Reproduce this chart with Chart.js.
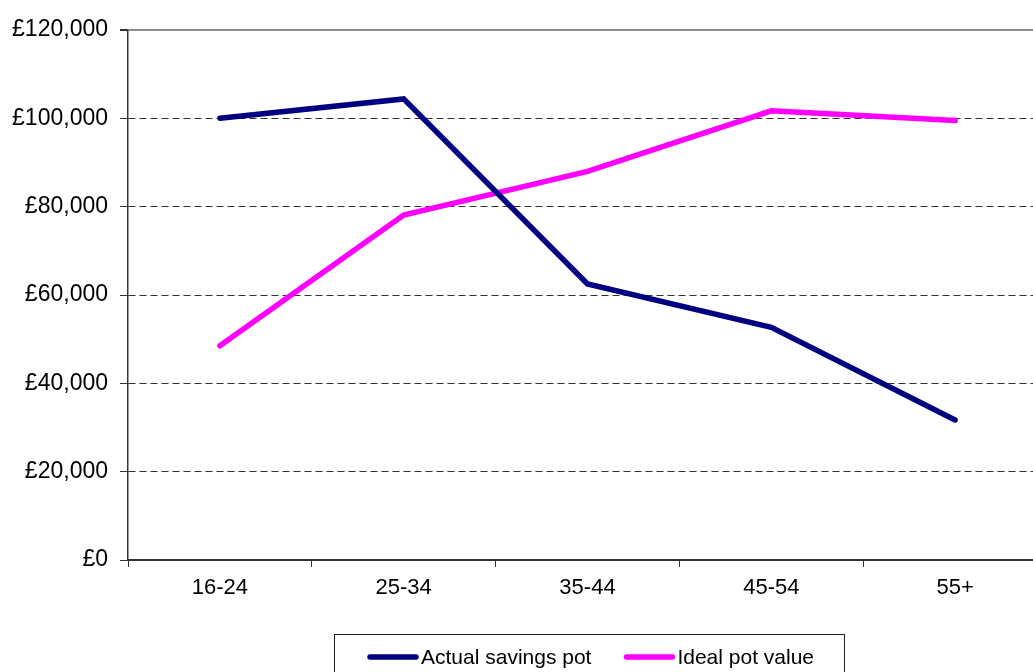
<!DOCTYPE html>
<html>
<head>
<meta charset="utf-8">
<script src="https://cdn.jsdelivr.net/npm/chart.js@4.4.1/dist/chart.umd.min.js"></script>
<style>
  html, body { margin: 0; padding: 0; overflow: hidden; background: #ffffff; }
  #wrap { width: 1050px; height: 672px; }
</style>
</head>
<body>
<div id="wrap"><canvas id="c" width="1050" height="672"></canvas></div>
<script>
// Age bands along the x axis
const ageBands = ['16-24', '25-34', '35-44', '45-54', '55+'];
// Pension pot values (£) per age band
const actualSavingsPot = [100000, 104400, 62500, 52700, 31700];
const idealPotValue = [48500, 78100, 88000, 101700, 99500];
// Value axis ticks (£)
const yTickValues = [0, 20000, 40000, 60000, 80000, 100000, 120000];

const FONT = '"Liberation Sans", Arial, Helvetica, sans-serif';
const gbp = v => '£' + Number(v).toLocaleString('en-GB');

// Boxed legend drawn below the axis
const boxedLegend = {
  id: 'boxedLegend',
  afterDraw(chart) {
    const ctx = chart.ctx;
    ctx.save();
    ctx.strokeStyle = '#222';
    ctx.lineWidth = 1;
    ctx.strokeRect(334.5, 634.5, 510, 60);
    ctx.font = '21px ' + FONT;
    ctx.textBaseline = 'alphabetic';
    ctx.textAlign = 'left';
    let x = 368;
    const yLine = 657;
    chart.data.datasets.forEach(ds => {
      ctx.strokeStyle = ds.borderColor;
      ctx.lineWidth = 5.5;
      ctx.lineCap = 'round';
      ctx.beginPath();
      ctx.moveTo(x + 2, yLine);
      ctx.lineTo(x + 48, yLine);
      ctx.stroke();
      ctx.fillStyle = '#000';
      ctx.fillText(ds.label, x + 53, 664);
      x += 53 + ctx.measureText(ds.label).width + 33;
    });
    ctx.restore();
  }
};

new Chart(document.getElementById('c'), {
  type: 'line',
  data: {
    labels: ageBands,
    datasets: [
      {
        label: 'Actual savings pot',
        data: actualSavingsPot,
        borderColor: '#000080',
        backgroundColor: '#000080',
        borderWidth: 5.5,
        borderCapStyle: 'round',
        borderJoinStyle: 'miter',
        pointRadius: 0,
        tension: 0
      },
      {
        label: 'Ideal pot value',
        data: idealPotValue,
        borderColor: '#ff00ff',
        backgroundColor: '#ff00ff',
        borderWidth: 5.5,
        borderCapStyle: 'round',
        borderJoinStyle: 'miter',
        pointRadius: 0,
        tension: 0
      }
    ]
  },
  options: {
    responsive: false,
    animation: false,
    layout: { padding: { top: 30, right: 3, bottom: 0, left: 0 } },
    plugins: {
      legend: { display: false },
      tooltip: { enabled: false }
    },
    scales: {
      x: {
        offset: true,
        afterFit: s => { s.height = 112; },
        grid: {
          offset: true,
          drawOnChartArea: false,
          drawTicks: true,
          tickLength: 7,
          tickColor: '#333',
          lineWidth: 1
        },
        border: { display: true, color: '#333', width: 1.5 },
        ticks: {
          color: '#000',
          font: { family: FONT, size: 22 },
          padding: 8,
          maxRotation: 0
        }
      },
      y: {
        min: 0,
        max: 120000,
        afterFit: s => { s.width = 128; },
        afterBuildTicks: s => { s.ticks = yTickValues.map(v => ({ value: v })); },
        grid: {
          drawTicks: true,
          tickLength: 8,
          tickColor: '#333',
          color: ctx => (ctx.tick && ctx.tick.value === 120000) ? '#8c8c8c' : '#333',
          lineWidth: ctx => (ctx.tick && ctx.tick.value === 120000) ? 2 : 1
        },
        border: {
          display: true,
          color: '#333',
          width: 1.5,
          dash: ctx => (ctx.tick && (ctx.tick.value === 120000 || ctx.tick.value === 0)) ? [] : [7, 4]
        },
        ticks: {
          color: '#000',
          font: { family: FONT, size: 23 },
          padding: 12,
          callback: v => gbp(v)
        }
      }
    }
  },
  plugins: [boxedLegend]
});
</script>
</body>
</html>
